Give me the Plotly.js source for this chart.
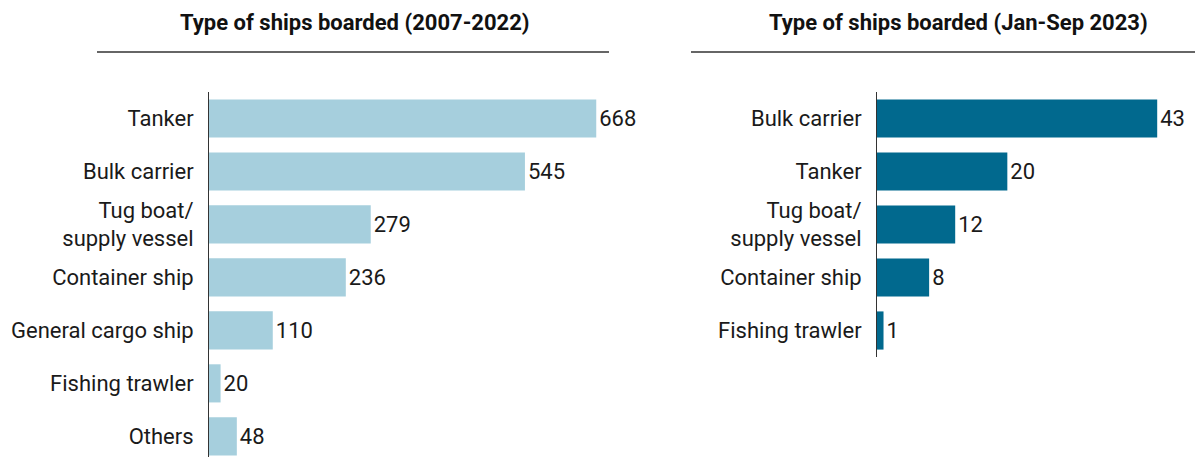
<!DOCTYPE html>
<html>
<head>
<meta charset="utf-8">
<script src="https://cdn.plot.ly/plotly-3.0.1.min.js"></script>
<style>html,body{margin:0;padding:0;background:#fff;}#chart{width:1195px;height:457px;}</style>
</head>
<body>
<div id="chart"></div>
<script>
const leftTitle = "Type of ships boarded (2007-2022)";
const leftCategories = ["Tanker", "Bulk carrier", "Tug boat/<br>supply vessel", "Container ship", "General cargo ship", "Fishing trawler", "Others"];
const leftValues = [668, 545, 279, 236, 110, 20, 48];

const rightTitle = "Type of ships boarded (Jan-Sep 2023)";
const rightCategories = ["Bulk carrier", "Tanker", "Tug boat/<br>supply vessel", "Container ship", "Fishing trawler"];
const rightValues = [43, 20, 12, 8, 1];

const W = 1195, H = 457;
const fx = v => v / W;
const fy = v => 1 - v / H;
const font = "Roboto, 'Noto Sans', sans-serif";

const traces = [
  {
    type: "bar", orientation: "h",
    x: leftValues, y: leftCategories,
    xaxis: "x", yaxis: "y",
    marker: {color: "#a6cfdd"},
    text: leftValues.map(String), textposition: "outside", constraintext: "none",
    textfont: {family: font, size: 22, color: "#1a1a1a"},
    cliponaxis: false, hoverinfo: "skip"
  },
  {
    type: "bar", orientation: "h",
    x: rightValues, y: rightCategories,
    xaxis: "x2", yaxis: "y2",
    marker: {color: "#01698e"},
    text: rightValues.map(String), textposition: "outside", constraintext: "none",
    textfont: {family: font, size: 22, color: "#1a1a1a"},
    cliponaxis: false, hoverinfo: "skip"
  }
];

const yCommon = {
  type: "category", showgrid: false, zeroline: false,
  showline: true, linecolor: "#333", linewidth: 1,
  ticks: "", ticklabelstandoff: 10,
  tickfont: {family: font, size: 22, color: "#1a1a1a"}
};
const xCommon = {showgrid: false, zeroline: false, showline: false, showticklabels: false, ticks: ""};

const layout = {
  width: W, height: H,
  margin: {l: 0, r: 0, t: 0, b: 0},
  paper_bgcolor: "#fff", plot_bgcolor: "rgba(0,0,0,0)",
  showlegend: false, bargap: 0.28,
  font: {family: font},
  xaxis: Object.assign({}, xCommon, {domain: [fx(209), fx(609)], range: [0, 690], anchor: "y"}),
  yaxis: Object.assign({}, yCommon, {domain: [0, fy(92)], range: [6.39, -0.5], anchor: "x"}),
  xaxis2: Object.assign({}, xCommon, {domain: [fx(877), 1], range: [0, 48.8], anchor: "y2"}),
  yaxis2: Object.assign({}, yCommon, {domain: [fy(357), fy(92)], range: [4.5, -0.5], anchor: "x2"}),
  shapes: [
    {type: "line", xref: "paper", yref: "paper", x0: fx(97), x1: fx(609), y0: fy(52), y1: fy(52), line: {color: "#333", width: 1.5}},
    {type: "line", xref: "paper", yref: "paper", x0: fx(691), x1: 1, y0: fy(52), y1: fy(52), line: {color: "#333", width: 1.5}}
  ],
  annotations: [
    {text: "<b>" + leftTitle + "</b>", xref: "paper", yref: "paper", x: fx(355), y: fy(22), xanchor: "center", yanchor: "middle", showarrow: false, font: {family: font, size: 22, color: "#111"}},
    {text: "<b>" + rightTitle + "</b>", xref: "paper", yref: "paper", x: fx(958), y: fy(22), xanchor: "center", yanchor: "middle", showarrow: false, font: {family: font, size: 22, color: "#111"}}
  ]
};

Plotly.newPlot("chart", traces, layout, {displayModeBar: false, staticPlot: true});
</script>
</body>
</html>
